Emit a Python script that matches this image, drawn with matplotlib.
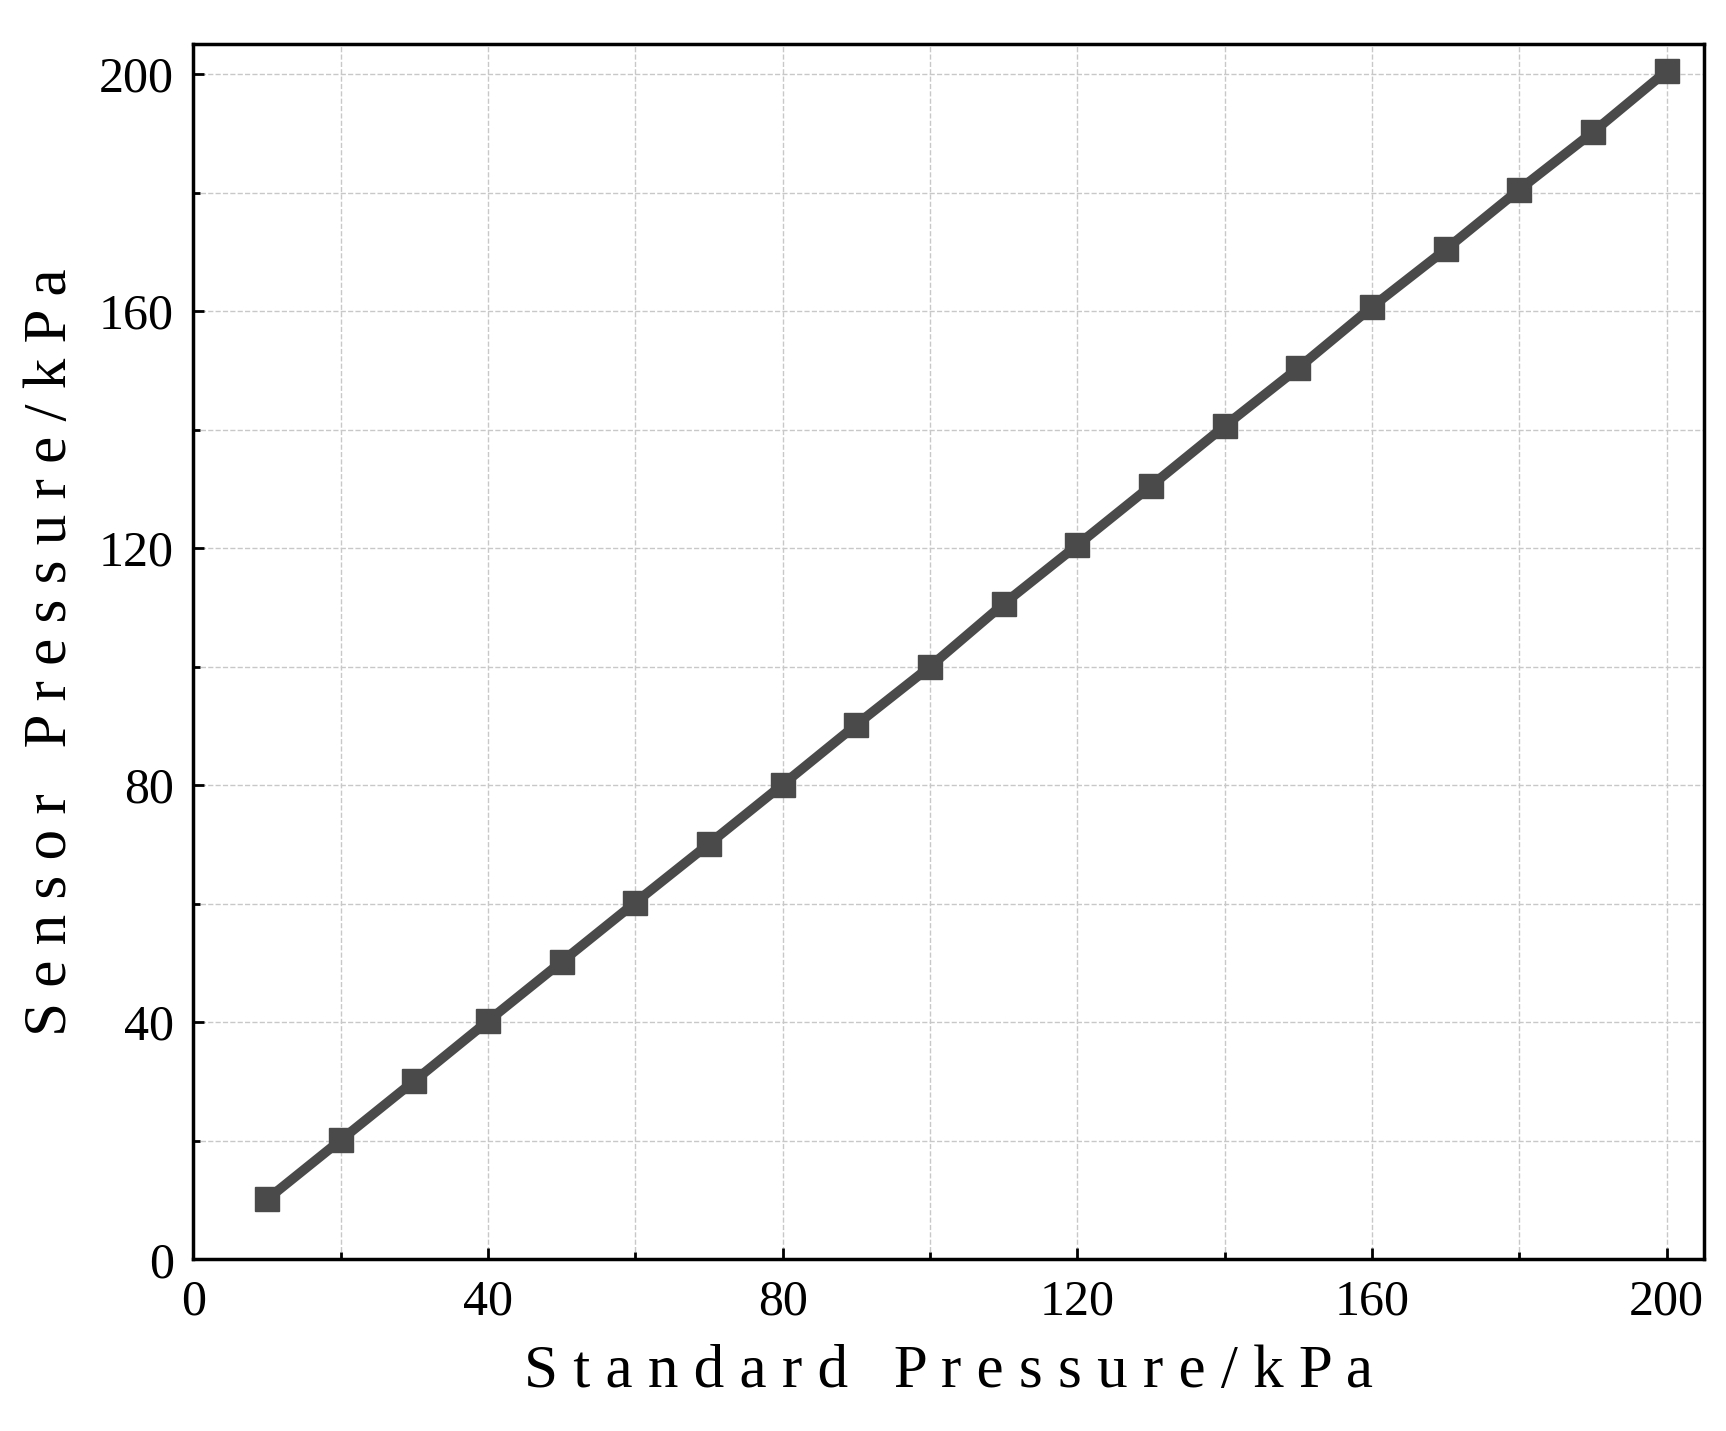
import matplotlib.pyplot as plt
from matplotlib.ticker import MultipleLocator

standard = [10, 20, 30, 40, 50, 60, 70, 80, 90, 100,
            110, 120, 130, 140, 150, 160, 170, 180, 190, 200]
sensor = [10.1, 20.1, 30.1, 40.2, 50.2, 60.2, 70.1, 80.1, 90.2, 100.0,
          110.6, 120.5, 130.5, 140.6, 150.4, 160.7, 170.4, 180.5, 190.2, 200.5]

plt.rcParams['font.family'] = ['Liberation Serif', 'DejaVu Serif']

fig = plt.figure(figsize=(17.26, 14.31), dpi=100)
ax = fig.add_axes([0.112, 0.12, 0.875, 0.849])

ax.plot(standard, sensor, color='#4a4a4a', lw=7, marker='s', ms=17, zorder=3)

ax.set_xlim(0, 205)
ax.set_ylim(0, 205)
ax.xaxis.set_major_locator(MultipleLocator(40))
ax.yaxis.set_major_locator(MultipleLocator(40))
ax.xaxis.set_minor_locator(MultipleLocator(20))
ax.yaxis.set_minor_locator(MultipleLocator(20))
ax.grid(True, which='both', ls='--', color='#c8c8c8', lw=1)
ax.tick_params(which='major', direction='in', length=8, width=2, labelsize=36, pad=14)
ax.tick_params(which='minor', direction='in', length=5, width=2)
for s in ax.spines.values():
    s.set_linewidth(2.5)

ax.set_xlabel('S t a n d a r d   P r e s s u r e / k P a', fontsize=44, labelpad=14)
ax.set_ylabel('S e n s o r   P r e s s u r e / k P a', fontsize=44, labelpad=14)

fig.savefig('out.png', dpi=100)
